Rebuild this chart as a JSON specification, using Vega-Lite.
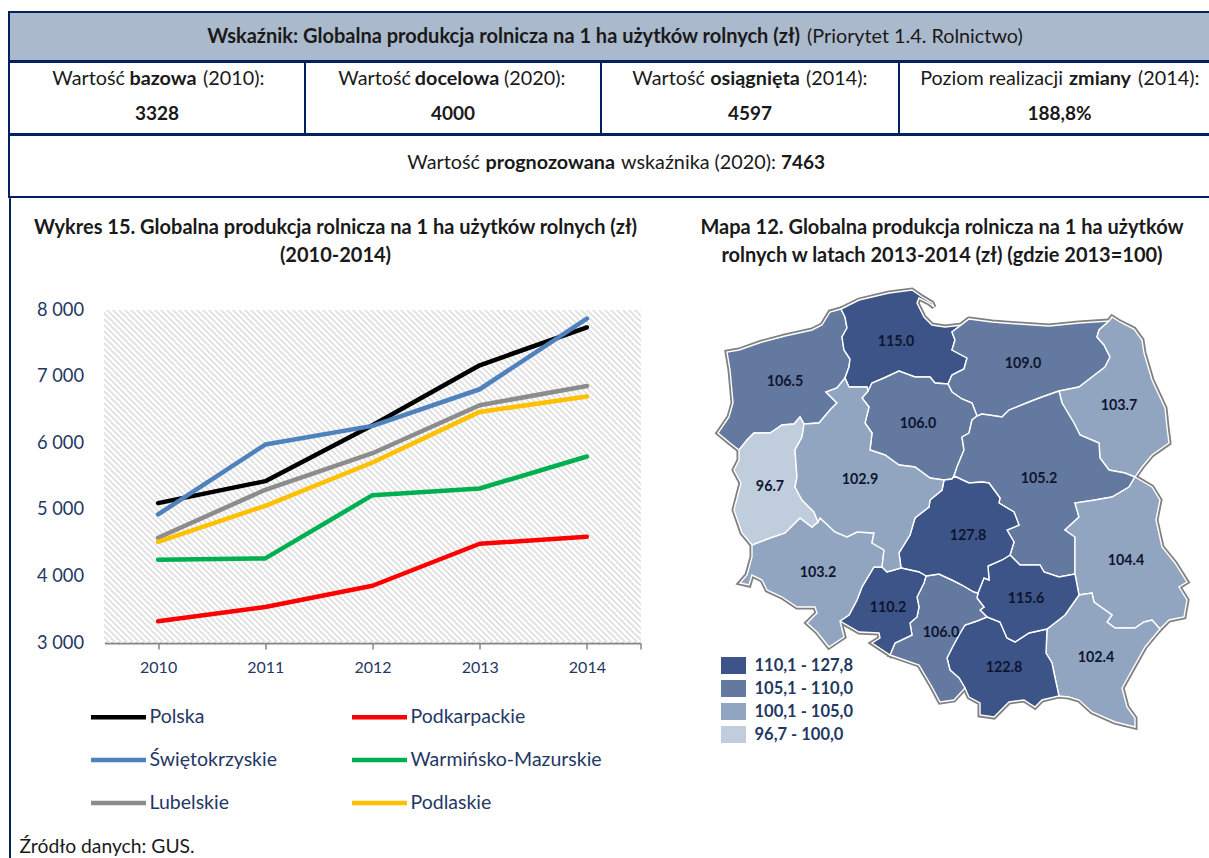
{
"$schema":"https://vega.github.io/schema/vega-lite/v6.json",
"padding":{"left":8,"top":11,"right":0,"bottom":0},
"background":"white",
"spacing":-2,
"resolve":{"scale":{"color":"independent"},"legend":{"color":"independent"}},
"config":{"view":{"stroke":null},"font":"Lato","text":{"font":"Lato","color":"#1a1a1a"}},
"vconcat":[
{"width":1211,"height":49,"view":{"fill":"#abb9cc","stroke":"#002060","strokeWidth":2},
 "data":{"values":[{"bold":"Wskaźnik: Globalna produkcja rolnicza na 1 ha użytków rolnych (zł)","reg":"(Priorytet 1.4. Rolnictwo)"}]},
 "layer":[
 {"mark":{"type":"text","fontWeight":"bold","fontSize":20,"align":"right","dx":185.5},"encoding":{"text":{"field":"bold"}}},
 {"mark":{"type":"text","fontSize":19.8,"align":"left","dx":192.5},"encoding":{"text":{"field":"reg"}}}
 ]},
{"hconcat":[
 {"width":296,"height":72,"view":{"stroke":"#002060","strokeWidth":2},
  "data":{"values":[{"a":"Wartość","b":"bazowa","c":"(2010):","v":"3328"}]},
  "layer":[
  {"mark":{"type":"text","fontSize":19.8,"align":"right","dx":-32,"dy":-19},"encoding":{"text":{"field":"a"}}},
  {"mark":{"type":"text","fontSize":19.8,"fontWeight":"bold","align":"center","dx":6,"dy":-19},"encoding":{"text":{"field":"b"}}},
  {"mark":{"type":"text","fontSize":19.8,"align":"left","dx":46,"dy":-19},"encoding":{"text":{"field":"c"}}},
  {"mark":{"type":"text","fontSize":19,"fontWeight":"bold","dy":16},"encoding":{"text":{"field":"v"}}}
  ]},
 {"width":296,"height":72,"view":{"stroke":"#002060","strokeWidth":2},
  "data":{"values":[{"a":"Wartość","b":"docelowa","c":"(2020):","v":"4000"}]},
  "layer":[
  {"mark":{"type":"text","fontSize":19.8,"align":"right","dx":-42,"dy":-19},"encoding":{"text":{"field":"a"}}},
  {"mark":{"type":"text","fontSize":19.8,"fontWeight":"bold","align":"center","dx":4,"dy":-19},"encoding":{"text":{"field":"b"}}},
  {"mark":{"type":"text","fontSize":19.8,"align":"left","dx":51,"dy":-19},"encoding":{"text":{"field":"c"}}},
  {"mark":{"type":"text","fontSize":19,"fontWeight":"bold","dy":16},"encoding":{"text":{"field":"v"}}}
  ]},
 {"width":298,"height":72,"view":{"stroke":"#002060","strokeWidth":2},
  "data":{"values":[{"a":"Wartość","b":"osiągnięta","c":"(2014):","v":"4597"}]},
  "layer":[
  {"mark":{"type":"text","fontSize":19.8,"align":"right","dx":-45,"dy":-19},"encoding":{"text":{"field":"a"}}},
  {"mark":{"type":"text","fontSize":19.8,"fontWeight":"bold","align":"center","dx":5,"dy":-19},"encoding":{"text":{"field":"b"}}},
  {"mark":{"type":"text","fontSize":19.8,"align":"left","dx":56,"dy":-19},"encoding":{"text":{"field":"c"}}},
  {"mark":{"type":"text","fontSize":19,"fontWeight":"bold","dy":16},"encoding":{"text":{"field":"v"}}}
  ]},
 {"width":321,"height":72,"view":{"stroke":"#002060","strokeWidth":2},
  "data":{"values":[{"a":"Poziom realizacji","b":"zmiany","c":"(2014):","v":"188,8%"}]},
  "layer":[
  {"mark":{"type":"text","fontSize":19.8,"align":"right","dx":3.5,"dy":-19},"encoding":{"text":{"field":"a"}}},
  {"mark":{"type":"text","fontSize":19.8,"fontWeight":"bold","align":"center","dx":40.5,"dy":-19},"encoding":{"text":{"field":"b"}}},
  {"mark":{"type":"text","fontSize":19.8,"align":"left","dx":78.5,"dy":-19},"encoding":{"text":{"field":"c"}}},
  {"mark":{"type":"text","fontSize":19,"fontWeight":"bold","dy":16},"encoding":{"text":{"field":"v"}}}
  ]}
 ],"spacing":0,"bounds":"flush"},
{"width":1211,"height":62,"view":{"stroke":"#002060","strokeWidth":2},
 "data":{"values":[{"a":"Wartość","b":"prognozowana","c":"wskaźnika (2020):","d":"7463"}]},
 "layer":[
 {"mark":{"type":"text","fontSize":19.8,"align":"right","dx":-134.5,"dy":-3.5},"encoding":{"text":{"field":"a"}}},
 {"mark":{"type":"text","fontSize":19.8,"fontWeight":"bold","align":"center","dx":-64.2,"dy":-3.5},"encoding":{"text":{"field":"b"}}},
 {"mark":{"type":"text","fontSize":19.8,"align":"left","dx":6.5,"dy":-3.5},"encoding":{"text":{"field":"c"}}},
 {"mark":{"type":"text","fontSize":19,"fontWeight":"bold","align":"left","dx":166.5,"dy":-3.5},"encoding":{"text":{"field":"d"}}}
 ]},
{"resolve":{"scale":{"color":"independent"},"legend":{"color":"independent"}},"hconcat":[
 {"resolve":{"scale":{"color":"independent"},"legend":{"color":"independent"}},"hconcat":[
  {"width":1,"height":670,"view":{"fill":"#002060","stroke":"#002060","strokeWidth":1},
   "data":{"values":[{"t":""}]},"mark":{"type":"text"},"encoding":{"text":{"field":"t"}}},
  {"resolve":{"scale":{"color":"independent"},"legend":{"color":"independent"}},"vconcat":[
   {"width":536,"height":112,
    "data":{"values":[{"t":"Wykres 15. Globalna produkcja rolnicza na 1 ha użytków rolnych (zł)\n(2010-2014)"}]},
    "mark":{"type":"text","fontWeight":"bold","fontSize":20,"lineBreak":"\n","lineHeight":27.5,"dx":-37,"dy":-26},
    "encoding":{"text":{"field":"t"}}},
   {"width":536,"height":333,
    "data":{"values":[
     {"year":2010,"series":"Polska","value":5100},{"year":2011,"series":"Polska","value":5430},{"year":2012,"series":"Polska","value":6270},{"year":2013,"series":"Polska","value":7170},{"year":2014,"series":"Polska","value":7740},
     {"year":2010,"series":"Podkarpackie","value":3328},{"year":2011,"series":"Podkarpackie","value":3540},{"year":2012,"series":"Podkarpackie","value":3860},{"year":2013,"series":"Podkarpackie","value":4490},{"year":2014,"series":"Podkarpackie","value":4597},
     {"year":2010,"series":"Świętokrzyskie","value":4930},{"year":2011,"series":"Świętokrzyskie","value":5980},{"year":2012,"series":"Świętokrzyskie","value":6260},{"year":2013,"series":"Świętokrzyskie","value":6810},{"year":2014,"series":"Świętokrzyskie","value":7870},
     {"year":2010,"series":"Warmińsko-Mazurskie","value":4250},{"year":2011,"series":"Warmińsko-Mazurskie","value":4270},{"year":2012,"series":"Warmińsko-Mazurskie","value":5220},{"year":2013,"series":"Warmińsko-Mazurskie","value":5320},{"year":2014,"series":"Warmińsko-Mazurskie","value":5800},
     {"year":2010,"series":"Lubelskie","value":4580},{"year":2011,"series":"Lubelskie","value":5300},{"year":2012,"series":"Lubelskie","value":5850},{"year":2013,"series":"Lubelskie","value":6570},{"year":2014,"series":"Lubelskie","value":6860},
     {"year":2010,"series":"Podlaskie","value":4520},{"year":2011,"series":"Podlaskie","value":5060},{"year":2012,"series":"Podlaskie","value":5710},{"year":2013,"series":"Podlaskie","value":6470},{"year":2014,"series":"Podlaskie","value":6700}
    ]},
    "layer":[
     {"mark":{"type":"point","clip":true,"filled":false,"size":4,"stroke":"#e3e3e3","strokeWidth":1.4,"shape":"M-602-167l334 334m-328-334l334 334m-328-334l334 334m-328-334l334 334m-328-334l334 334m-328-334l334 334m-328-334l334 334m-328-334l334 334m-328-334l334 334m-328-334l334 334m-328-334l334 334m-328-334l334 334m-328-334l334 334m-328-334l334 334m-328-334l334 334m-328-334l334 334m-328-334l334 334m-328-334l334 334m-328-334l334 334m-328-334l334 334m-328-334l334 334m-328-334l334 334m-328-334l334 334m-328-334l334 334m-328-334l334 334m-328-334l334 334m-328-334l334 334m-328-334l334 334m-328-334l334 334m-328-334l334 334m-328-334l334 334m-328-334l334 334m-328-334l334 334m-328-334l334 334m-328-334l334 334m-328-334l334 334m-328-334l334 334m-328-334l334 334m-328-334l334 334m-328-334l334 334m-328-334l334 334m-328-334l334 334m-328-334l334 334m-328-334l334 334m-328-334l334 334m-328-334l334 334m-328-334l334 334m-328-334l334 334m-328-334l334 334m-328-334l334 334m-328-334l334 334m-328-334l334 334m-328-334l334 334m-328-334l334 334m-328-334l334 334m-328-334l334 334m-328-334l334 334m-328-334l334 334m-328-334l334 334m-328-334l334 334m-328-334l334 334m-328-334l334 334m-328-334l334 334m-328-334l334 334m-328-334l334 334m-328-334l334 334m-328-334l334 334m-328-334l334 334m-328-334l334 334m-328-334l334 334m-328-334l334 334m-328-334l334 334m-328-334l334 334m-328-334l334 334m-328-334l334 334m-328-334l334 334m-328-334l334 334m-328-334l334 334m-328-334l334 334m-328-334l334 334m-328-334l334 334m-328-334l334 334m-328-334l334 334m-328-334l334 334m-328-334l334 334m-328-334l334 334m-328-334l334 334m-328-334l334 334m-328-334l334 334m-328-334l334 334m-328-334l334 334m-328-334l334 334m-328-334l334 334m-328-334l334 334m-328-334l334 334m-328-334l334 334m-328-334l334 334m-328-334l334 334m-328-334l334 334m-328-334l334 334m-328-334l334 334m-328-334l334 334m-328-334l334 334m-328-334l334 334m-328-334l334 334m-328-334l334 334m-328-334l334 334m-328-334l334 334m-328-334l334 334m-328-334l334 334m-328-334l334 334m-328-334l334 334m-328-334l334 334m-328-334l334 334m-328-334l334 334m-328-334l334 334m-328-334l334 334m-328-334l334 334m-328-334l334 334m-328-334l334 334m-328-334l334 334m-328-334l334 334m-328-334l334 334m-328-334l334 334m-328-334l334 334m-328-334l334 334m-328-334l334 334m-328-334l334 334m-328-334l334 334m-328-334l334 334m-328-334l334 334m-328-334l334 334m-328-334l334 334m-328-334l334 334m-328-334l334 334m-328-334l334 334m-328-334l334 334m-328-334l334 334m-328-334l334 334m-328-334l334 334m-328-334l334 334m-328-334l334 334m-328-334l334 334m-328-334l334 334m-328-334l334 334m-328-334l334 334m-328-334l334 334m-328-334l334 334m-328-334l334 334m-328-334l334 334m-328-334l334 334m-328-334l334 334m-328-334l334 334m-328-334l334 334"},
      "encoding":{"x":{"datum":2012,"type":"quantitative","scale":{"domain":[2009.5,2014.5]}},"y":{"datum":5500,"type":"quantitative","scale":{"domain":[3000,8000]}}}},
     {"mark":{"type":"line","strokeWidth":4.5,"strokeCap":"round","strokeJoin":"round"},
      "encoding":{
       "x":{"field":"year","type":"quantitative","scale":{"domain":[2009.5,2014.5]},"title":null,
        "axis":{"values":[2010,2011,2012,2013,2014,2014.5],"labelExpr":"datum.value==2014.5?'':format(datum.value,'d')","grid":false,"domainColor":"#868686","domainWidth":2,"tickColor":"#868686","tickWidth":1.5,"tickSize":6,"labelFontSize":16,"labelColor":"#1f3864","labelFont":"Lato","labelPadding":10}},
       "y":{"field":"value","type":"quantitative","scale":{"domain":[3000,8000]},"title":null,
        "axis":{"values":[3000,4000,5000,6000,7000,8000],"labelExpr":"replace(format(datum.value,','),',',' ')","domain":false,"ticks":false,"gridColor":"#d9d9d9","gridWidth":2,"labelFontSize":18.3,"labelColor":"#1f3864","labelFont":"Lato","labelPadding":21}},
       "color":{"field":"series","type":"nominal",
        "scale":{"domain":["Polska","Podkarpackie","Świętokrzyskie","Warmińsko-Mazurskie","Lubelskie","Podlaskie"],"range":["#000000","#ff0000","#4f81bd","#00b050","#8c8c8c","#ffc000"]},
        "legend":{"title":null,"orient":"none","legendX":-16,"legendY":377,"direction":"horizontal","columns":2,"symbolType":"stroke","symbolSize":3025,"symbolStrokeWidth":4.5,"labelFontSize":19.5,"labelLimit":400,"labelColor":"#1f3864","labelFont":"Lato","labelOffset":1,"columnPadding":65,"rowPadding":3,"gridAlign":"each"}}
      }}
    ]},
   {"width":536,"height":214,
    "data":{"values":[{"t":"Źródło danych: GUS."}]},
    "mark":{"type":"text","fontSize":19.3,"align":"left","dx":-353,"dy":97},
    "encoding":{"text":{"field":"t"}}}
  ],"spacing":0,"bounds":"flush"}
 ],"spacing":8.5},
 {"resolve":{"scale":{"color":"independent"},"legend":{"color":"independent"}},"vconcat":[
  {"width":560,"height":72,
   "data":{"values":[{"t":"Mapa 12. Globalna produkcja rolnicza na 1 ha użytków\nrolnych w latach 2013-2014 (zł) (gdzie 2013=100)"}]},
   "mark":{"type":"text","fontWeight":"bold","fontSize":20,"lineBreak":"\n","lineHeight":27.5,"dy":-6},
   "encoding":{"text":{"field":"t"}}},
  {"width":560,"height":460,
   "projection":{"type":"identity","scale":1,"translate":[-660,-270]},
   "layer":[
    {"data":{"name":"regions"},"mark":{"type":"geoshape","fill":null,"stroke":"#808080","strokeWidth":5}},
    {"data":{"name":"regions"},"mark":{"type":"geoshape","stroke":"white","strokeWidth":1.4},
     "encoding":{"color":{"field":"properties.class","type":"nominal",
      "scale":{"domain":["110,1 - 127,8","105,1 - 110,0","100,1 - 105,0","96,7 - 100,0"],"range":["#3c5488","#64799f","#91a5c0","#bfcddd"]},
      "legend":{"title":null,"orient":"none","legendX":63,"legendY":387,"symbolType":"M-1.47,-1L1.47,-1L1.47,1L-1.47,1Z","symbolSize":289,"symbolStrokeWidth":0,"labelFontSize":16.5,"labelFontWeight":"bold","labelColor":"#1f3864","labelFont":"Lato","labelOffset":12.5,"rowPadding":6}}}},
    {"data":{"values":[
      {"lon":894,"lat":342,"label":"115.0"},{"lon":783,"lat":382,"label":"106.5"},{"lon":1021,"lat":364,"label":"109.0"},{"lon":1117,"lat":406,"label":"103.7"},
      {"lon":916,"lat":424,"label":"106.0"},{"lon":768,"lat":487,"label":"96.7"},{"lon":858,"lat":480,"label":"102.9"},{"lon":1037,"lat":479,"label":"105.2"},
      {"lon":966,"lat":536,"label":"127.8"},{"lon":1124,"lat":561,"label":"104.4"},{"lon":816,"lat":573,"label":"103.2"},{"lon":886,"lat":608,"label":"110.2"},
      {"lon":1024,"lat":599,"label":"115.6"},{"lon":939,"lat":633,"label":"106.0"},{"lon":1002,"lat":668,"label":"122.8"},{"lon":1094,"lat":658,"label":"102.4"}]},
     "mark":{"type":"text","fontSize":14.3,"fontWeight":"bold","color":"#0f1530"},
     "encoding":{"longitude":{"field":"lon","type":"quantitative"},"latitude":{"field":"lat","type":"quantitative"},"text":{"field":"label"}}}
   ]}
 ],"spacing":0,"bounds":"flush"}
],"spacing":20}
],
"datasets":{"regions":[
{"type":"Feature","properties":{"name":"Zachodniopomorskie","class":"105,1 - 110,0"},"geometry":{"type":"Polygon","coordinates":[[[839,309],[828,312],[820,325],[810,330],[783,336],[760,342],[737,350],[725,352],[728,370],[731,403],[727,417],[716,433],[728,443],[737,450],[745,440],[752,433],[768,433],[780,425],[792,424],[798,417],[802,424],[817,423],[828,410],[835,403],[824,392],[835,388],[843,378],[847,367],[848,359],[842,350],[840,337],[845,328],[843,317],[839,309]]]}},
{"type":"Feature","properties":{"name":"Pomorskie","class":"110,1 - 127,8"},"geometry":{"type":"Polygon","coordinates":[[[839,309],[857,300],[887,293],[910,290],[920,297],[930,303],[932,307],[927,303],[917,298],[915,303],[922,317],[930,325],[943,327],[960,325],[967,319],[950,332],[953,340],[950,350],[965,358],[962,369],[950,375],[946,384],[933,383],[928,377],[913,377],[897,371],[882,378],[870,383],[866,391],[865,387],[847,387],[843,378],[847,367],[848,359],[842,350],[840,337],[845,328],[843,317],[839,309]]]}},
{"type":"Feature","properties":{"name":"Warmińsko-Mazurskie","class":"105,1 - 110,0"},"geometry":{"type":"Polygon","coordinates":[[[967,319],[990,322],[1017,324],[1047,326],[1077,323],[1107,321],[1097,330],[1095,337],[1102,345],[1108,357],[1103,367],[1090,377],[1077,387],[1057,391],[1040,397],[1027,402],[1007,410],[1000,417],[980,414],[975,416],[970,403],[960,399],[950,392],[946,384],[950,375],[962,369],[965,358],[950,350],[953,340],[950,332],[967,319]]]}},
{"type":"Feature","properties":{"name":"Podlaskie","class":"100,1 - 105,0"},"geometry":{"type":"Polygon","coordinates":[[[1107,321],[1110,317],[1118,322],[1132,329],[1140,340],[1142,353],[1150,380],[1163,408],[1165,427],[1167,443],[1150,455],[1140,467],[1133,477],[1123,473],[1107,470],[1098,458],[1097,443],[1078,435],[1072,423],[1060,403],[1057,391],[1077,387],[1090,377],[1103,367],[1108,357],[1102,345],[1095,337],[1097,330],[1107,321]]]}},
{"type":"Feature","properties":{"name":"Kujawsko-Pomorskie","class":"105,1 - 110,0"},"geometry":{"type":"Polygon","coordinates":[[[866,391],[870,383],[882,378],[897,371],[913,377],[928,377],[933,383],[946,384],[950,392],[960,399],[970,403],[975,416],[970,420],[967,433],[960,437],[962,450],[955,467],[952,476],[950,479],[942,480],[928,478],[913,467],[897,465],[883,455],[868,450],[870,433],[863,423],[867,407],[860,398],[866,391]]]}},
{"type":"Feature","properties":{"name":"Mazowieckie","class":"105,1 - 110,0"},"geometry":{"type":"Polygon","coordinates":[[[1057,391],[1040,397],[1027,402],[1007,410],[1000,417],[980,414],[975,416],[970,420],[967,433],[960,437],[962,450],[955,467],[952,476],[967,483],[980,482],[987,483],[998,498],[997,503],[1012,512],[1017,525],[1005,530],[1012,542],[1008,555],[1018,565],[1038,565],[1042,572],[1057,577],[1073,574],[1073,537],[1063,530],[1077,517],[1073,503],[1093,500],[1110,497],[1127,487],[1133,477],[1123,473],[1107,470],[1098,458],[1097,443],[1078,435],[1072,423],[1060,403],[1057,391]]]}},
{"type":"Feature","properties":{"name":"Lubelskie","class":"100,1 - 105,0"},"geometry":{"type":"Polygon","coordinates":[[[1133,477],[1150,487],[1158,500],[1154,520],[1160,547],[1173,563],[1185,582],[1177,587],[1185,600],[1182,617],[1167,620],[1158,629],[1150,620],[1142,622],[1133,628],[1113,628],[1105,622],[1110,615],[1092,602],[1090,593],[1077,595],[1073,574],[1073,537],[1063,530],[1077,517],[1073,503],[1093,500],[1110,497],[1127,487],[1133,477]]]}},
{"type":"Feature","properties":{"name":"Podkarpackie","class":"100,1 - 105,0"},"geometry":{"type":"Polygon","coordinates":[[[1158,629],[1143,647],[1120,688],[1125,707],[1133,718],[1133,727],[1113,722],[1090,712],[1077,700],[1067,697],[1057,696],[1052,673],[1050,663],[1044,653],[1045,629],[1063,615],[1077,595],[1090,593],[1092,602],[1110,615],[1105,622],[1113,628],[1133,628],[1142,622],[1150,620],[1158,629]]]}},
{"type":"Feature","properties":{"name":"Małopolskie","class":"110,1 - 127,8"},"geometry":{"type":"Polygon","coordinates":[[[1045,629],[1044,653],[1050,663],[1052,673],[1057,696],[1040,700],[1033,707],[1022,700],[1007,702],[992,717],[978,715],[978,703],[967,697],[963,688],[957,678],[948,670],[945,658],[950,648],[957,635],[963,625],[975,621],[985,617],[998,622],[1005,638],[1013,642],[1027,633],[1045,629]]]}},
{"type":"Feature","properties":{"name":"Świętokrzyskie","class":"110,1 - 127,8"},"geometry":{"type":"Polygon","coordinates":[[[985,617],[978,610],[982,607],[975,598],[976,593],[982,578],[987,580],[986,566],[1000,560],[1008,555],[1018,565],[1038,565],[1042,572],[1057,577],[1073,574],[1077,595],[1063,615],[1045,629],[1027,633],[1013,642],[1005,638],[998,622],[985,617]]]}},
{"type":"Feature","properties":{"name":"Śląskie","class":"105,1 - 110,0"},"geometry":{"type":"Polygon","coordinates":[[[888,655],[917,665],[930,687],[938,702],[952,700],[963,688],[957,678],[948,670],[945,658],[950,648],[957,635],[963,625],[975,621],[985,617],[978,610],[982,607],[975,598],[976,593],[972,592],[960,585],[950,580],[937,574],[924,576],[922,583],[915,597],[917,607],[915,617],[908,623],[910,635],[893,643],[888,655]]]}},
{"type":"Feature","properties":{"name":"Łódzkie","class":"110,1 - 127,8"},"geometry":{"type":"Polygon","coordinates":[[[942,480],[940,490],[928,500],[927,507],[913,518],[908,535],[897,553],[899,568],[917,572],[924,576],[937,574],[950,580],[960,585],[972,592],[976,593],[982,578],[987,580],[986,566],[1000,560],[1008,555],[1012,542],[1005,530],[1017,525],[1012,512],[997,503],[998,498],[987,483],[980,482],[967,483],[952,476],[950,479],[942,480]]]}},
{"type":"Feature","properties":{"name":"Opolskie","class":"110,1 - 127,8"},"geometry":{"type":"Polygon","coordinates":[[[880,567],[885,572],[899,568],[917,572],[924,576],[922,583],[915,597],[917,607],[915,617],[908,623],[910,635],[893,643],[888,655],[870,643],[878,638],[877,633],[857,632],[838,621],[847,615],[855,600],[860,587],[872,567],[880,567]]]}},
{"type":"Feature","properties":{"name":"Dolnośląskie","class":"100,1 - 105,0"},"geometry":{"type":"Polygon","coordinates":[[[816,522],[810,527],[798,518],[783,533],[768,538],[750,545],[750,557],[745,575],[738,583],[747,585],[750,575],[760,580],[765,590],[780,597],[795,607],[813,607],[815,613],[805,623],[815,632],[827,647],[842,637],[838,621],[847,615],[855,600],[860,587],[872,567],[880,567],[882,550],[870,543],[872,533],[855,532],[845,537],[833,532],[818,518],[816,522]]]}},
{"type":"Feature","properties":{"name":"Lubuskie","class":"96,7 - 100,0"},"geometry":{"type":"Polygon","coordinates":[[[737,450],[745,440],[752,433],[768,433],[780,425],[792,424],[798,417],[802,424],[800,437],[793,450],[795,477],[793,487],[800,500],[812,512],[816,522],[810,527],[798,518],[783,533],[768,538],[750,545],[740,533],[732,510],[739,483],[732,470],[737,460],[737,450]]]}},
{"type":"Feature","properties":{"name":"Wielkopolskie","class":"100,1 - 105,0"},"geometry":{"type":"Polygon","coordinates":[[[802,424],[817,423],[828,410],[835,403],[824,392],[835,388],[843,378],[847,387],[865,387],[866,391],[860,398],[867,407],[863,423],[870,433],[868,450],[883,455],[897,465],[913,467],[928,478],[942,480],[940,490],[928,500],[927,507],[913,518],[908,535],[897,553],[899,568],[885,572],[880,567],[882,550],[870,543],[872,533],[855,532],[845,537],[833,532],[818,518],[816,522],[812,512],[800,500],[793,487],[795,477],[793,450],[800,437],[802,424]]]}}
]}
}
